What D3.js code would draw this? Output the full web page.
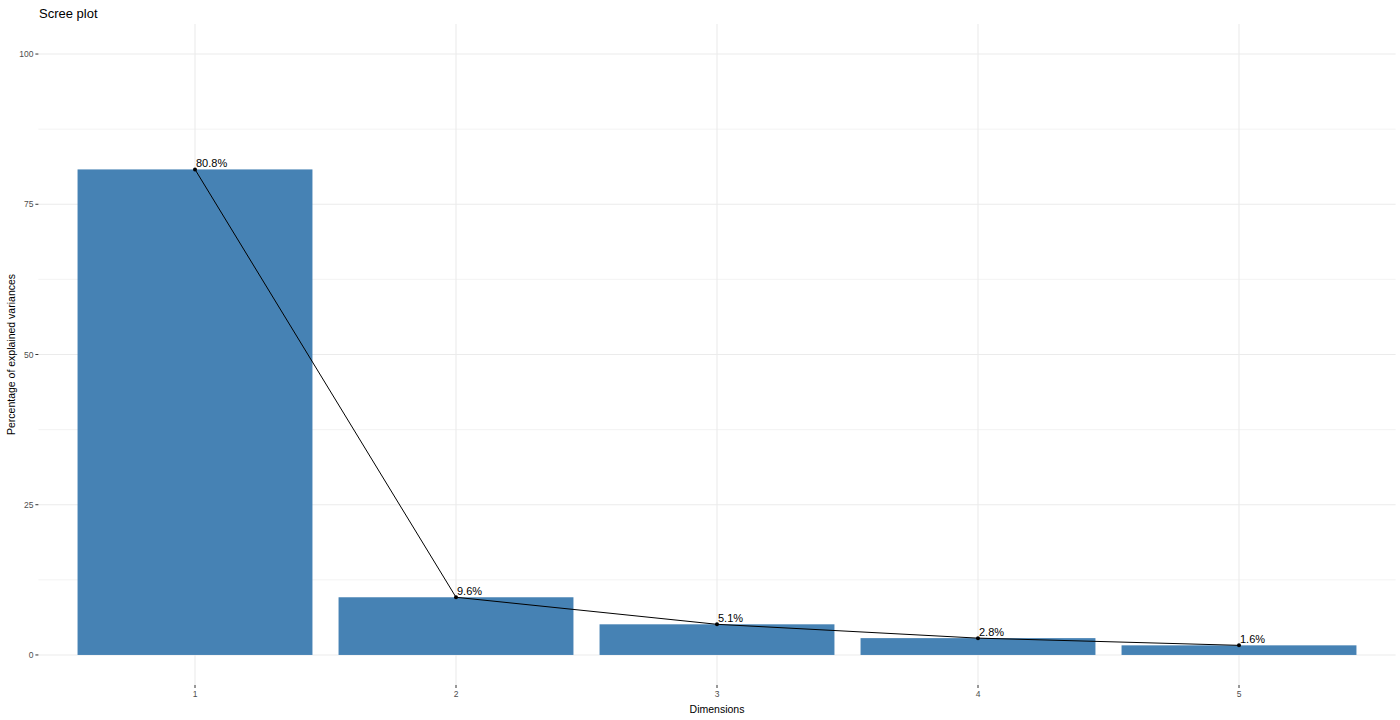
<!DOCTYPE html>
<html><head><meta charset="utf-8">
<script src="https://cdn.jsdelivr.net/npm/d3@7/dist/d3.min.js"></script>
<style>body{margin:0;background:#fff}text{font-family:"Liberation Sans",Arial,sans-serif}</style>
</head><body><svg id="c" width="1400" height="720"></svg>
<script>
const dims = ["1","2","3","4","5"];
const variances = [80.8, 9.6, 5.1, 2.8, 1.6];
const yTicks = [0,25,50,75,100];
const yMinor = [12.5,37.5,62.5,87.5];

const svg = d3.select("#c");
const L=38.4, R=1395.6, T=24, B=685;
const step=(R-L)/5.2;
const x = d3.scaleBand().domain(dims).range([L+0.1*step, R-0.1*step]).paddingInner(0.1).paddingOuter(0.05);
const y = d3.scaleLinear().domain([-5,105]).range([B,T]);
const cx = d => x(d)+x.bandwidth()/2;

// grid
svg.selectAll(".gm").data(yMinor).join("line").attr("x1",L).attr("x2",R)
  .attr("y1",d=>y(d)).attr("y2",d=>y(d)).attr("stroke","#ebebeb").attr("stroke-width",0.6);
svg.selectAll(".gy").data(yTicks).join("line").attr("x1",L).attr("x2",R)
  .attr("y1",d=>y(d)).attr("y2",d=>y(d)).attr("stroke","#ebebeb").attr("stroke-width",1.1);
svg.selectAll(".gx").data(dims).join("line").attr("x1",cx).attr("x2",cx)
  .attr("y1",T).attr("y2",B).attr("stroke","#ebebeb").attr("stroke-width",1.1);

// bars
svg.selectAll(".bar").data(dims).join("rect").attr("x",d=>x(d)).attr("width",x.bandwidth())
  .attr("y",(d,i)=>y(variances[i])).attr("height",(d,i)=>y(0)-y(variances[i])).attr("fill","#4682B4");

// line + points
const line = d3.line().x((d,i)=>cx(dims[i])).y(d=>y(d));
svg.append("path").attr("d",line(variances)).attr("fill","none").attr("stroke","#000").attr("stroke-width",1);
svg.selectAll(".pt").data(variances).join("circle").attr("cx",(d,i)=>cx(dims[i])).attr("cy",d=>y(d)).attr("r",2).attr("fill","#000");
svg.selectAll(".lab").data(variances).join("text").attr("x",(d,i)=>cx(dims[i])+1).attr("y",d=>y(d)-2)
  .attr("font-size",11).attr("fill","#000").text(d=>d.toFixed(1)+"%");

// axes ticks & labels
svg.selectAll(".yt").data(yTicks).join("line").attr("x1",L-3).attr("x2",L).attr("y1",d=>y(d)).attr("y2",d=>y(d)).attr("stroke","#333");
svg.selectAll(".yl").data(yTicks).join("text").attr("x",L-5).attr("y",d=>y(d)+3).attr("text-anchor","end")
  .attr("font-size",8.5).attr("fill","#4d4d4d").text(d=>d);
svg.selectAll(".xt").data(dims).join("line").attr("x1",cx).attr("x2",cx).attr("y1",B).attr("y2",B+3).attr("stroke","#333");
svg.selectAll(".xl").data(dims).join("text").attr("x",cx).attr("y",B+12).attr("text-anchor","middle")
  .attr("font-size",8.5).attr("fill","#4d4d4d").text(d=>d);

svg.append("text").attr("x",(L+R)/2).attr("y",713).attr("text-anchor","middle").attr("font-size",10.5).text("Dimensions");
svg.append("text").attr("transform",`translate(15,${(T+B)/2}) rotate(-90)`).attr("text-anchor","middle").attr("font-size",10.5).text("Percentage of explained variances");
svg.append("text").attr("x",39).attr("y",18).attr("font-size",13).text("Scree plot");
</script></body></html>
